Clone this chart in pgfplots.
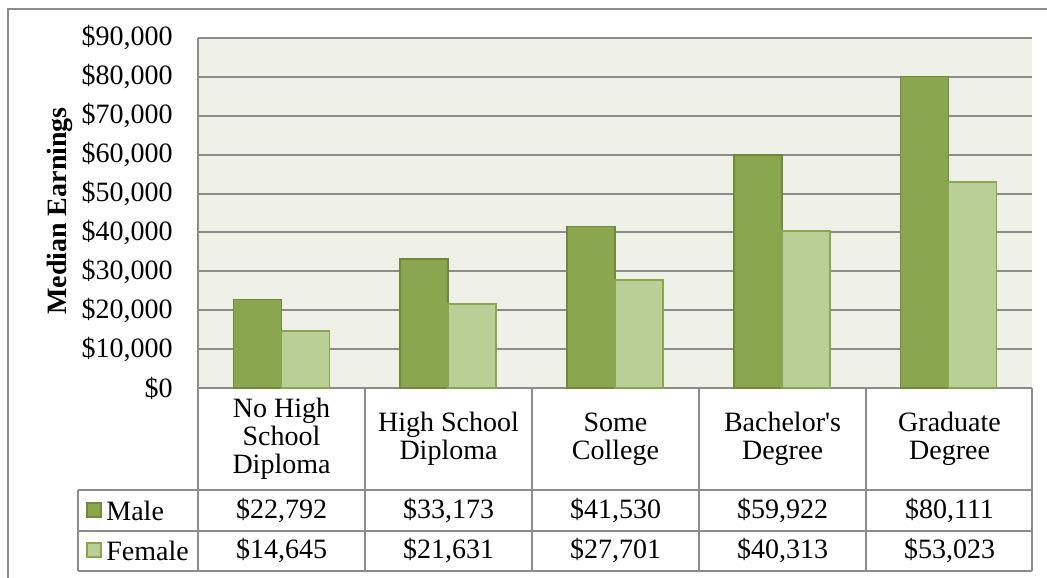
\documentclass[border=0pt]{standalone}
\usepackage{pgfplots}
\pgfplotsset{compat=1.18}
\usepackage{fontspec}
\setmainfont{Liberation Serif}

\definecolor{malefill}{HTML}{8AA64F}
\definecolor{maleedge}{HTML}{6F8A3C}
\definecolor{femfill}{HTML}{B9CF96}
\definecolor{femedge}{HTML}{8AA64F}
\definecolor{plotbg}{HTML}{EFF1E9}
\definecolor{linegray}{HTML}{8C8C8C}

\begin{document}
\begin{tikzpicture}[font=\fontsize{14}{14}\selectfont]

% pixel grid of the reference: X to the right, Y downwards
\begin{scope}[x=0.5pt, y=-0.5pt, shift={(0pt,288.5pt)}]
  \useasboundingbox (0,0) rectangle (1047,577);
  \draw[linegray, line width=1pt] (8,590) -- (8,9) -- (1060,9);
\end{scope}

\begin{axis}[
  at={(99pt,94.5pt)}, anchor=south west,
  scale only axis, width=417pt, height=175pt,
  xmin=-0.5, xmax=4.5,
  ymin=0, ymax=90000,
  ytick distance=10000,
  xtick=\empty,
  axis background/.style={fill=plotbg},
  axis x line*=bottom, axis y line*=left,
  axis line style={linegray, line width=1pt, -},
  major tick length=0pt,
  ymajorgrids,
  grid style={linegray, line width=1pt},
  scaled y ticks=false,
  yticklabel={\$\pgfmathprintnumber{\tick}},
  /pgf/number format/.cd, fixed, precision=0, 1000 sep={,}, assume math mode=true,
  /pgfplots/.cd,
  yticklabel style={anchor=east, inner sep=0pt, xshift=-12.5pt},
  clip=false,
]
  % Male
  \addplot[ybar, bar width=0.2874, bar shift=-0.1437, fill=malefill, draw=maleedge, line width=0.8pt]
    coordinates {(0,22792)(1,33173)(2,41530)(3,59922)(4,80111)};
  % Female
  \addplot[ybar, bar width=0.2874, bar shift=0.1437, fill=femfill, draw=femedge, line width=0.8pt]
    coordinates {(0,14645)(1,21631)(2,27701)(3,40313)(4,53023)};
\end{axis}

\begin{scope}[x=0.5pt, y=-0.5pt, shift={(0pt,288.5pt)}]
  \node[rotate=90, font=\fontsize{14}{14}\selectfont\bfseries] at (60,211) {Median Earnings};

  % data table
  \draw[linegray, line width=1pt]
    (78,490) -- (1032,490)
    (78,531) -- (1032,531)
    (78,571) -- (1032,571)
    (78,490) -- (78,571);
  \foreach \xx in {198,365,532,699,866,1032}
    \draw[linegray, line width=1pt] (\xx,388) -- (\xx,571);

  \foreach \lab [count=\i from 0] in {No High\\School\\Diploma, High School\\Diploma, Some\\College, Bachelor\textquotesingle s\\Degree, Graduate\\Degree}
    \node[align=center, inner sep=0pt] at (281.5+167*\i,439) {\lab};

  \foreach \v [count=\i from 0] in {{\$22,792}, {\$33,173}, {\$41,530}, {\$59,922}, {\$80,111}}
    \node[inner sep=0pt] at (281.5+167*\i,510.5) {\v};
  \foreach \v [count=\i from 0] in {{\$14,645}, {\$21,631}, {\$27,701}, {\$40,313}, {\$53,023}}
    \node[inner sep=0pt] at (281.5+167*\i,551) {\v};

  % legend keys
  \draw[fill=malefill, draw=maleedge, line width=0.8pt] (87,503) rectangle (101,517);
  \node[anchor=west, inner sep=0pt] at (106,510.5) {Male};
  \draw[fill=femfill, draw=femedge, line width=0.8pt] (87,543) rectangle (101,557);
  \node[anchor=west, inner sep=0pt] at (106,551) {Female};
\end{scope}
\end{tikzpicture}
\end{document}
